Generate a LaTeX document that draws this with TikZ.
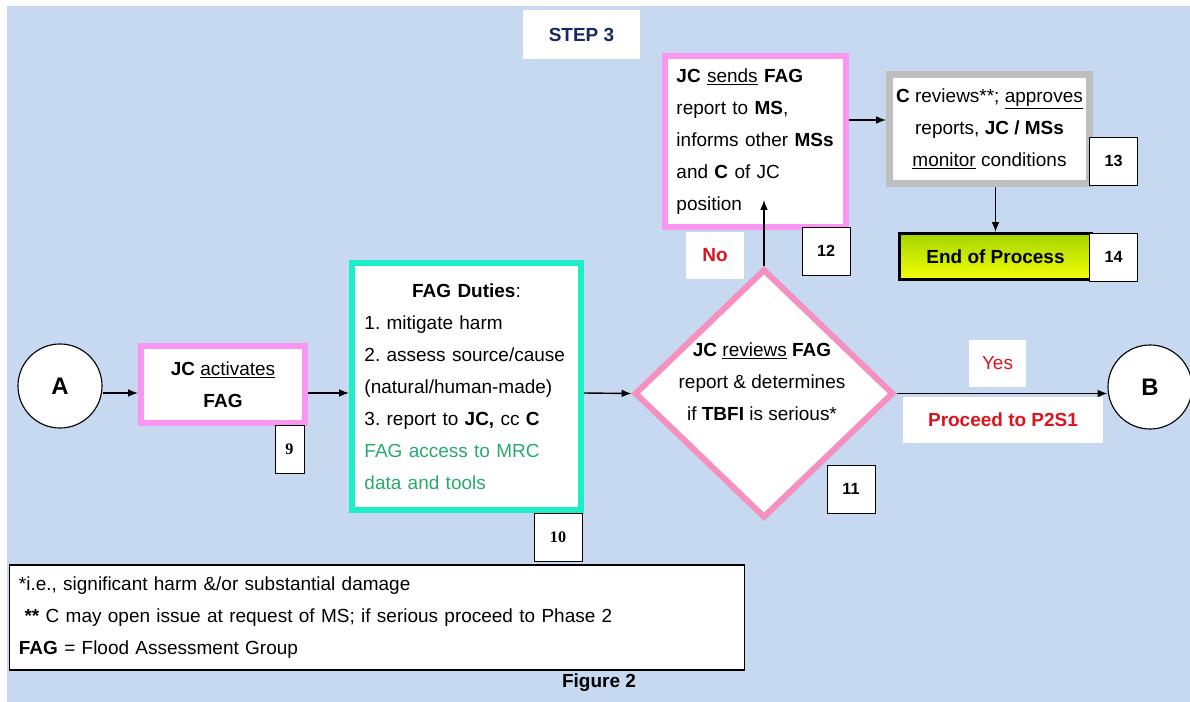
\documentclass[tikz,border=0pt]{standalone}
\usepackage{fontspec}
\setmainfont{Liberation Sans}
\newfontfamily\numserif{Liberation Serif}
\usepackage{tikz}
\usetikzlibrary{positioning,shapes.geometric,arrows.meta}
\definecolor{bgblue}{RGB}{198,217,240}
\definecolor{boxpink}{RGB}{248,150,242}
\definecolor{diapink}{RGB}{245,145,190}
\definecolor{dutyteal}{RGB}{30,238,200}
\definecolor{revgray}{RGB}{190,190,190}
\definecolor{stepnavy}{RGB}{25,40,95}
\definecolor{nored}{RGB}{220,20,30}
\definecolor{accessgreen}{RGB}{40,170,110}
\definecolor{endgreen}{RGB}{165,212,0}
\definecolor{endyellow}{RGB}{242,255,0}
\newcommand\diagfont{\fontsize{13.5}{22.7}\selectfont}
\frenchspacing

\begin{document}
\begin{tikzpicture}[x=0.025cm, y=-0.025cm,
  every node/.style={font=\diagfont},
  pinkbox/.style={draw=boxpink, line width=4.3pt, fill=white},
  numbox/.style={draw=black, line width=0.6pt, fill=white, minimum width=1.2cm, minimum height=1.2cm, inner sep=0pt, font=\fontsize{11.5}{12}\selectfont\bfseries},
  tagbox/.style={fill=white, inner sep=0pt},
  endcircle/.style={circle, draw, fill=white, line width=0.8pt, minimum size=2.1cm, inner sep=0pt, font=\fontsize{17}{20}\selectfont\bfseries},
  arr/.style={-{Latex[length=7pt,width=5.5pt]}, line width=1pt}]
\useasboundingbox (0,0) rectangle (1190,702);
\fill[bgblue] (7,6) rectangle (1190,702);

\node[tagbox, minimum width=2.925cm, minimum height=1.225cm, text=stepnavy, font=\diagfont\bfseries] (step) at (581.5,34.5) {STEP 3};

\node[endcircle] (circA) at (60,386) {A};
\node[pinkbox, minimum width=4.1cm, minimum height=1.925cm, align=center] (act) at (223,384.5) {\textbf{JC} \underline{activates}\\\textbf{FAG}};
\node[numbox, minimum width=0.725cm, font=\fontsize{11.5}{12}\selectfont\numserif\bfseries] (n9) at (289.5,449) {9};

\node[draw=dutyteal, line width=4.3pt, fill=white, minimum width=5.725cm, minimum height=6.175cm, text width=5.1cm, align=left] (duties) at (466.5,386.5) {\makebox[\linewidth]{\textbf{FAG Duties}:}\\1. mitigate harm\\2. assess source/cause\\(natural/human-made)\\3. report to \textbf{JC,} cc \textbf{C}\\\textcolor{accessgreen}{FAG access to MRC}\\\textcolor{accessgreen}{data and tools}};
\node[numbox, font=\fontsize{11.5}{12}\selectfont\numserif\bfseries] (n10) at (558,537.5) {10};

\node[diamond, draw=diapink, line width=4.3pt, fill=white, minimum width=6.475cm, minimum height=6.225cm, inner sep=0pt] (rev) at (764,393.5) {};
\node[align=center] (revtxt) at (762,381.5) {\textbf{JC} \underline{reviews} \textbf{FAG}\\report \& determines\\if \textbf{TBFI} is serious*};
\node[numbox] (n11) at (851,489) {11};

\node[pinkbox, minimum width=4.525cm, minimum height=4.275cm, text width=3.95cm, align=left] (sends) at (755.5,141.5) {\textbf{JC} \underline{sends} \textbf{FAG}\\report to \textbf{MS},\\informs other \textbf{MSs}\\and \textbf{C} of JC\\position};
\node[numbox] (n12) at (826,251) {12};
\node[tagbox, minimum width=1.45cm, minimum height=1.175cm, text=nored, font=\diagfont\bfseries] (nolbl) at (715,255.5) {No};

\node[draw=revgray, line width=5pt, fill=white, minimum width=5cm, minimum height=2.725cm, align=center] (appr) at (989.5,129) {\textbf{C} reviews**; \underline{approves}\\reports, \textbf{JC / MSs}\\\underline{monitor} conditions};
\node[numbox] (n13) at (1113.5,161) {13};
\node[draw=black, line width=2.2pt, top color=endgreen, bottom color=endyellow, minimum width=4.8cm, minimum height=1.15cm, font=\diagfont\bfseries] (endp) at (995.5,256.5) {End of Process};
\node[numbox] (n14) at (1113.5,257) {14};

\node[tagbox, minimum width=1.425cm, minimum height=1.175cm, text=nored] (yes) at (997.5,363.5) {Yes};
\node[tagbox, minimum width=5cm, minimum height=1.15cm, text=nored, font=\diagfont\bfseries] (proc) at (1003,420) {Proceed to P2S1};
\node[endcircle] (circB) at (1150,387) {B};

\node[draw=black, line width=0.8pt, fill=white, minimum width=18.35cm, minimum height=2.625cm, text width=17.9cm, align=left] (foot) at (377,617.5) {*i.e., significant harm \&/or substantial damage\\\hspace*{0.3em}\textbf{**} C may open issue at request of MS; if serious proceed to Phase 2\\\textbf{FAG} = Flood Assessment Group};
\node[font=\diagfont\bfseries] (fig) at (599,683) {Figure 2};

\coordinate (row) at (0,393);
\coordinate (toprow) at (0,120);
\draw[arr] (circA.east |- row) -- (act.west |- row);
\draw[arr] (act.east |- row) -- (duties.west |- row);
\draw[arr] (duties.east |- row) -- (rev.west);
\draw[arr] (rev.east) -- (circB.west |- rev.east);
\draw[arr, shorten >=-0.75cm] (rev.north) -- (rev.north |- sends.south);
\draw[arr] (sends.east |- toprow) -- (appr.west |- toprow);
\draw[arr] (endp.north |- appr.south) -- (endp.north);
\end{tikzpicture}
\end{document}
